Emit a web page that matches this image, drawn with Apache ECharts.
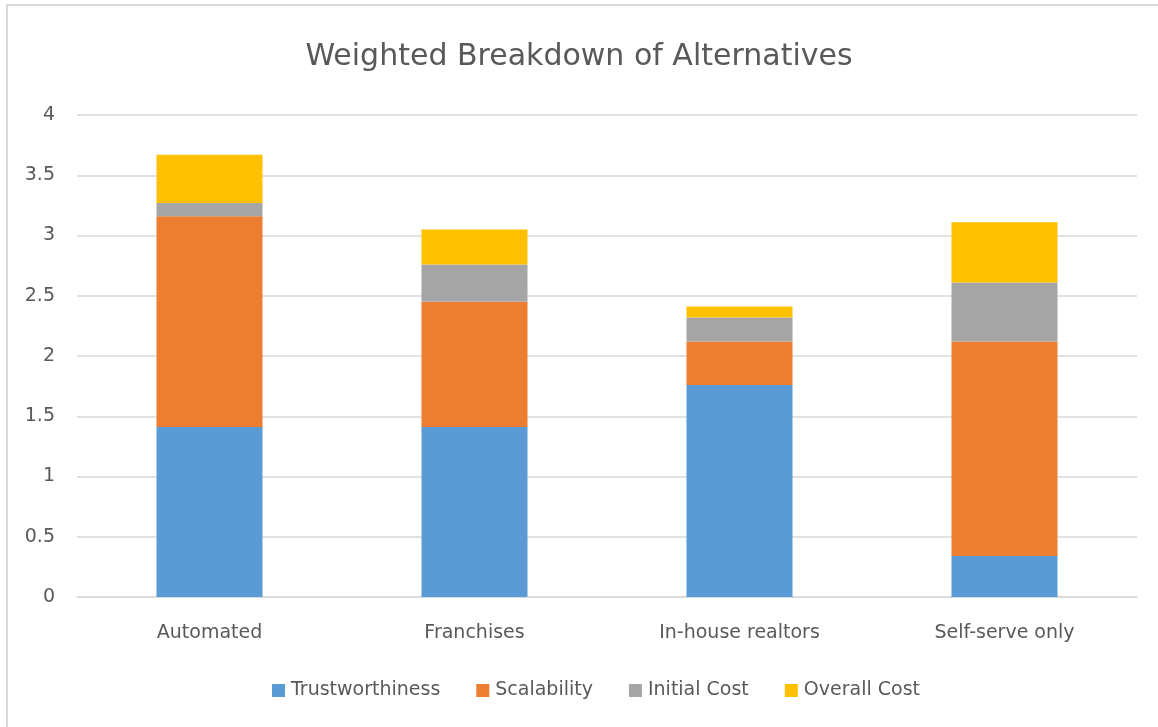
<!DOCTYPE html>
<html>
<head>
<meta charset="utf-8">
<title>Weighted Breakdown of Alternatives</title>
<script src="https://cdn.jsdelivr.net/npm/echarts@6/dist/echarts.min.js"></script>
<style>
  html, body { margin: 0; padding: 0; background: #ffffff; }
  #chart { width: 1158px; height: 727px; }
</style>
</head>
<body>
<div id="chart"></div>
<script>
// Alternatives being compared
const categories = ['Automated', 'Franchises', 'In-house realtors', 'Self-serve only'];

// Weighted score of each criterion per alternative
const trustworthiness = [1.41, 1.41, 1.76, 0.34];
const scalability     = [1.75, 1.04, 0.36, 1.78];
const initialCost     = [0.11, 0.31, 0.20, 0.49];
const overallCost     = [0.40, 0.29, 0.09, 0.50];

const seriesNames  = ['Trustworthiness', 'Scalability', 'Initial Cost', 'Overall Cost'];
const seriesValues = [trustworthiness, scalability, initialCost, overallCost];
const seriesColors = ['#5b9bd5', '#ed7d31', '#a5a5a5', '#ffc000'];

const textColor = '#595959';
const fontFamily = '"DejaVu Sans", "Noto Sans", sans-serif';

const chart = echarts.init(document.getElementById('chart'), null, { renderer: 'canvas' });

chart.setOption({
  backgroundColor: '#ffffff',
  animation: false,
  textStyle: { fontFamily: fontFamily },
  title: {
    text: 'Weighted Breakdown of Alternatives',
    left: 'center',
    top: 37,
    textStyle: { color: textColor, fontSize: 30, fontWeight: 'normal', fontFamily: fontFamily }
  },
  // light frame along the top and left edges
  graphic: [{
    type: 'rect',
    shape: { x: 7, y: 5, width: 1300, height: 900 },
    style: { fill: 'none', stroke: '#d9d9d9', lineWidth: 2 },
    silent: true,
    z: 100
  }],
  legend: {
    top: 676,
    left: 267,
    itemWidth: 13,
    itemHeight: 13,
    itemGap: 36,
    icon: 'rect',
    textStyle: { color: textColor, fontSize: 19, fontFamily: fontFamily, padding: [0, 0, 0, 1] },
    data: seriesNames
  },
  grid: { left: 77, right: 21, top: 115, bottom: 130, containLabel: false },
  xAxis: {
    type: 'category',
    data: categories,
    axisLine: { show: true, lineStyle: { color: '#d9d9d9', width: 1.5 } },
    axisTick: { show: false },
    axisLabel: { color: textColor, fontSize: 19, margin: 27, fontFamily: fontFamily }
  },
  yAxis: {
    type: 'value',
    min: 0,
    max: 4,
    interval: 0.5,
    axisLine: { show: false },
    axisTick: { show: false },
    axisLabel: { color: textColor, fontSize: 19, margin: 22, fontFamily: fontFamily },
    splitLine: { lineStyle: { color: '#d9d9d9', width: 1.5 } }
  },
  series: seriesNames.map((name, i) => ({
    name: name,
    type: 'bar',
    stack: 'total',
    barWidth: '40%',
    itemStyle: { color: seriesColors[i] },
    data: seriesValues[i]
  }))
});
</script>
</body>
</html>
